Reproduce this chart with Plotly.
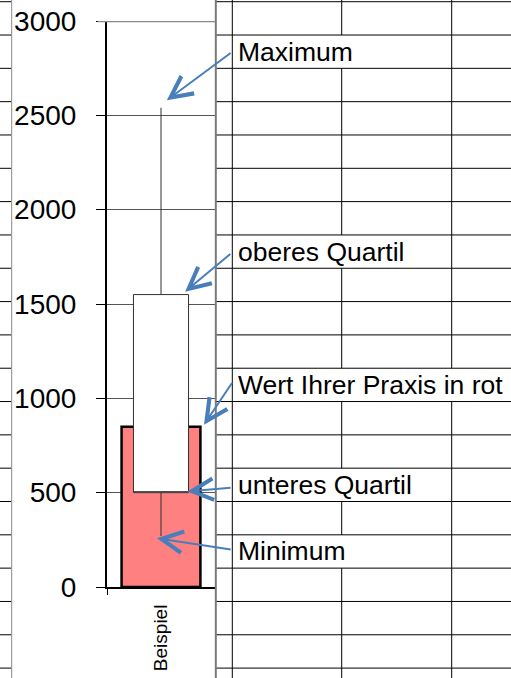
import plotly.graph_objects as go

# ---------------- data ----------------
categories = ["Beispiel"]
praxis_value = [850]
minimum = [270]
lower_quartile = [500]
upper_quartile = [1550]
maximum = [2540]
y_ticks = [0, 500, 1000, 1500, 2000, 2500, 3000]
labels = ["Maximum", "oberes Quartil", "Wert Ihrer Praxis in rot", "unteres Quartil", "Minimum"]

# ---------------- layout constants (pixels) ----------------
W, H = 511, 678
PL, PR, PT, PB = 107, 215, 21, 587
FONT = "Liberation Sans, Arial, sans-serif"


def xp(px):
    return (px - PL) / (PR - PL)


def yp(py):
    return (PB - py) / (PB - PT)


# spreadsheet grid behind the chart object
row_y = [1.7 + 33.32 * k for k in range(21)]
col_x = [232.3, 341.7, 451.7]
text_rows = [1, 7, 11, 14, 16]
hidden = {1: [341.7], 7: [341.7], 11: [341.7, 451.7], 14: [341.7], 16: [341.7]}

shapes = []
GRID = dict(color="black", width=1)
for y in row_y:
    shapes.append(dict(type="line", xref="paper", yref="paper", x0=xp(0), x1=xp(11.7),
                       y0=yp(y), y1=yp(y), line=GRID, layer="below"))
    shapes.append(dict(type="line", xref="paper", yref="paper", x0=xp(216), x1=xp(W),
                       y0=yp(y), y1=yp(y), line=GRID, layer="below"))
bounds = [-5] + row_y + [H + 5]
for cx in col_x:
    for i in range(len(bounds) - 1):
        k = i - 1  # row index between row_y[k] and row_y[k+1]
        if k in hidden and cx in hidden[k]:
            continue
        shapes.append(dict(type="line", xref="paper", yref="paper", x0=xp(cx), x1=xp(cx),
                           y0=yp(bounds[i]), y1=yp(bounds[i + 1]), line=GRID, layer="below"))

# chart object (white) with grey borders
shapes.append(dict(type="rect", xref="paper", yref="paper", x0=xp(11.7), x1=xp(215.8),
                   y0=yp(H + 5), y1=yp(-5), fillcolor="white", line=dict(width=0), layer="below"))
shapes.append(dict(type="line", xref="paper", yref="paper", x0=xp(11.7), x1=xp(11.7),
                   y0=yp(H + 5), y1=yp(-5), line=dict(color="#8a8a8a", width=1), layer="below"))
shapes.append(dict(type="line", xref="paper", yref="paper", x0=xp(215.8), x1=xp(215.8),
                   y0=yp(H + 5), y1=yp(-5), line=dict(color="#7a7a7a", width=2), layer="above"))
# top (3000) line of the plot area: thicker grey
shapes.append(dict(type="line", xref="paper", yref="y", x0=xp(97.7), x1=1,
                   y0=y_ticks[-1], y1=y_ticks[-1], line=dict(color="#8a8a8a", width=2.5), layer="above"))

fig = go.Figure()
fig.add_trace(go.Bar(x=[0], y=praxis_value, width=0.73,
                     marker=dict(color="#FF8080", line=dict(color="black", width=2.5)),
                     hoverinfo="skip"))
fig.add_trace(go.Box(x=[0], q1=lower_quartile, median=lower_quartile, q3=upper_quartile,
                     lowerfence=minimum, upperfence=maximum, width=0.51, whiskerwidth=0,
                     fillcolor="white", line=dict(color="#303030", width=1),
                     boxpoints=False, hoverinfo="skip"))

# annotation labels
for lab, r in zip(labels, text_rows):
    cy = (row_y[r] + row_y[r + 1]) / 2
    fig.add_annotation(text=lab, xref="paper", yref="paper", x=xp(236), y=yp(cy),
                       xanchor="left", yanchor="middle", showarrow=False,
                       font=dict(family=FONT, size=26.5, color="black"))

# arrows: (tip x offset in category units, tip y value, tail px offset)
arrow_tips = [(0.054, maximum[0] + 40), (0.223, upper_quartile[0] + 15),
              (0.398, praxis_value[0] + 10), (0.244, lower_quartile[0] + 6),
              (-0.038, minimum[0] - 11)]
arrow_tails = [(65.3, -48.3), (46.7, -39.0), (29.0, -43.3), (44.7, -4.0), (75.3, 11.7)]
for (tx, ty), (ax, ay) in zip(arrow_tips, arrow_tails):
    fig.add_annotation(x=tx, y=ty, xref="x", yref="y", text="", showarrow=True,
                       ax=ax, ay=ay, arrowhead=5, arrowsize=2.1, arrowwidth=2,
                       arrowcolor="#4A7EBB", standoff=0, startstandoff=0)

fig.update_layout(
    width=W, height=H,
    margin=dict(l=PL, r=W - PR, t=PT, b=H - PB, pad=0, autoexpand=False),
    paper_bgcolor="white", plot_bgcolor="white",
    showlegend=False,
    shapes=shapes,
    font=dict(family=FONT, color="black"),
    xaxis=dict(range=[-0.5, 0.5], tickvals=[0], ticktext=categories, tickangle=-90,
               ticks="", showgrid=False, zeroline=False, showline=True, automargin=False,
               linecolor="black", linewidth=2, tickfont=dict(size=19, family=FONT, color="black"),
               ticklabelstandoff=8,
               minor=dict(tickvals=[-0.5, 0.5], ticks="outside", ticklen=6,
                          tickcolor="black", tickwidth=1, showgrid=False)),
    yaxis=dict(range=[0, 3000], tickvals=y_ticks, ticks="outside", ticklen=9,
               tickcolor="black", tickwidth=1, showgrid=True, gridcolor="#555555",
               gridwidth=1, zeroline=False, showline=True, linecolor="black", linewidth=2,
               automargin=False,
               tickfont=dict(size=28, family=FONT, color="black"), ticklabelstandoff=14),
)

fig.write_html("out.html", post_script="document.body.style.margin='0px';",
               config={"displayModeBar": False})
